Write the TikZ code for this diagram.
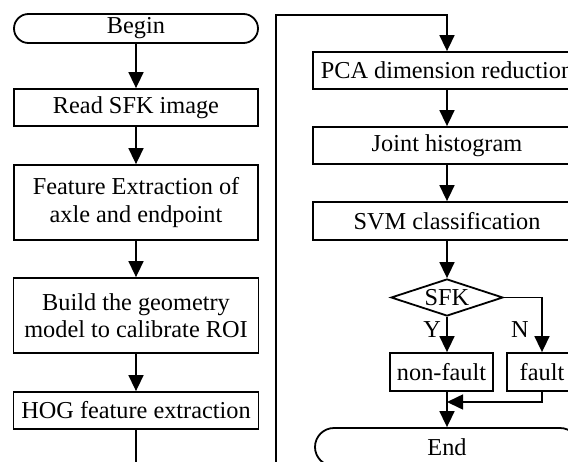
\documentclass[tikz,border=0pt]{standalone}
\usepackage{fontspec}
\setmainfont{Liberation Serif}
\usetikzlibrary{shapes.geometric,arrows.meta,calc}
\begin{document}
\begin{tikzpicture}[x=1pt,y=-1pt,
  every node/.style={font=\fontsize{24.3}{27.5}\selectfont},
  box/.style={draw,line width=1.8pt,inner sep=0pt,align=center},
  term/.style={box,rounded corners=14.5pt},
  dec/.style={draw,line width=1.8pt,shape=diamond,aspect=3,inner sep=0pt,minimum width=112pt,minimum height=37pt},
  conn/.style={line width=1.6pt},
  arr/.style={conn,-{Triangle[length=16pt,width=15pt]}},
  lbl/.style={inner sep=0pt}]
\useasboundingbox (0,0) rectangle (568,461);
\clip (0,0) rectangle (568,461);
% left column
\node[term,minimum width=244pt,minimum height=29pt] (begin) at (136,28.5) {Begin};
\node[box,minimum width=244pt,minimum height=37pt] (read) at (136,107.5) {Read SFK image};
\node[box,minimum width=244pt,minimum height=75pt] (feat) at (136,202.5) {Feature Extraction of\\axle and endpoint};
\node[box,minimum width=245pt,minimum height=75pt] (build) at (136,315.5) {Build the geometry\\model to calibrate ROI};
\node[box,minimum width=245pt,minimum height=37pt] (hog) at (136,410.5) {HOG feature extraction};
% right column
\node[box,minimum width=268pt,minimum height=37pt] (pca) at (447,70.5) {PCA dimension reduction};
\node[box,minimum width=268pt,minimum height=37pt] (joint) at (447,145.5) {Joint histogram};
\node[box,minimum width=268pt,minimum height=38pt] (svm) at (447,221) {SVM classification};
\node[dec] (sfk) at (447,297.5) {SFK};
\node[box,minimum width=103pt,minimum height=38pt] (nonfault) at (441.5,372) {non-fault};
\node[box,minimum width=70pt,minimum height=38pt] (fault) at (542,372) {fault};
\node[term,rounded corners=19pt,minimum width=264pt,minimum height=38pt] (end) at (447,447) {End};
\node[lbl,anchor=east] (ylab) at (441,330) {Y};
\node[lbl,anchor=center] (nlab) at (520,330) {N};
% connectors
\draw[arr] (begin) -- (read);
\draw[arr] (read) -- (feat);
\draw[arr] (feat) -- (build);
\draw[arr] (build) -- (hog);
\coordinate (lb) at (136,480);
\coordinate (rb) at (276,480);
\coordinate (rt) at (276,15);
\draw[arr] (hog.south) -- (lb) -- (rb) -- (rt) -| (pca.north);
\draw[arr] (pca) -- (joint);
\draw[arr] (joint) -- (svm);
\draw[arr] (svm) -- (sfk);
\draw[arr] (sfk.south) -- (sfk.south |- nonfault.north);
\draw[arr] (sfk.east) -| (fault.north);
\coordinate (mj) at (447,402);
\draw[arr] (fault.south) |- (mj);
\draw[arr] (sfk.south |- nonfault.south) -- (sfk.south |- end.north);
\end{tikzpicture}
\end{document}
